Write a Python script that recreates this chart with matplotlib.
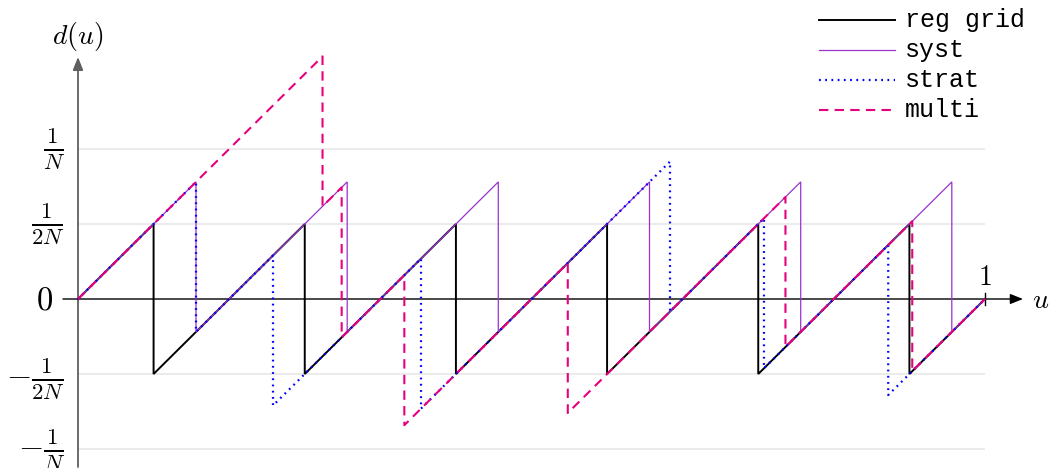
import matplotlib
matplotlib.use("Agg")
import matplotlib.pyplot as plt
from matplotlib.lines import Line2D

plt.rcParams['mathtext.fontset'] = 'cm'

# Number of particles and the resampling positions of each scheme in [0, 1]
N = 6
series_names = ["reg grid", "syst", "strat", "multi"]
reg_grid_points = [1/12, 3/12, 5/12, 7/12, 9/12, 11/12]
syst_points = [0.1301, 0.2968, 0.4634, 0.6301, 0.7968, 0.9634]
strat_points = [0.1301, 0.2150, 0.3782, 0.6527, 0.7563, 0.8933]
multi_points = [0.2696, 0.2907, 0.3598, 0.5400, 0.7800, 0.9198]

ytick_values = [1/N, 1/(2*N), -1/(2*N), -1/N]
ytick_labels = [r'$\frac{1}{N}$', r'$\frac{1}{2N}$', r'$-\frac{1}{2N}$', r'$-\frac{1}{N}$']

styles = {
    "reg grid": dict(color='black', lw=1.4, ls='-'),
    "syst": dict(color='#9933cc', lw=0.9, ls='-'),
    "strat": dict(color='blue', lw=1.6, ls=(0, (0.8, 2.0))),
    "multi": dict(color='#e6007e', lw=1.5, ls=(0, (4.5, 3.0))),
}
points_by_name = {
    "reg grid": reg_grid_points,
    "syst": syst_points,
    "strat": strat_points,
    "multi": multi_points,
}


def discrepancy(points):
    """d(u) = u - #{points <= u} / N, as a polyline with vertical jumps."""
    xs, ys = [0.0], [0.0]
    for k, p in enumerate(sorted(points)):
        xs += [p, p]
        ys += [p - k / N, p - (k + 1) / N]
    xs.append(1.0)
    ys.append(1.0 - len(points) / N)
    return xs, ys


W, H = 1054, 468
fig = plt.figure(figsize=(W / 100, H / 100), dpi=100)
ax = fig.add_axes([0, 0, 1, 1])
ax.axis('off')

# pixel geometry of the plotting frame
X0, XS = 78, 907          # u = 0 at x pixel 78, 907 px per unit
Y0, YS = 299, 150 * N     # d = 0 at y pixel 299, 150 px per 1/N
ax.set_xlim(-X0 / XS, (W - X0) / XS)
ax.set_ylim(-(H - Y0) / YS, Y0 / YS)


def px(x):
    return (x - X0) / XS


def py(y):
    return (Y0 - y) / YS


# light grid
ax.hlines(ytick_values, 0, 1, color='#e8e8e8', lw=1.2, zorder=0)

# axes with arrows
ax.annotate('', xy=(0, py(57)), xytext=(0, py(467)),
            arrowprops=dict(arrowstyle='-|>,head_length=0.55,head_width=0.22',
                            color='#606060', lw=1.3, mutation_scale=14,
                            shrinkA=0, shrinkB=0), zorder=1)
ax.annotate('', xy=(px(1023), 0), xytext=(px(63), 0),
            arrowprops=dict(arrowstyle='-|>,head_length=0.55,head_width=0.22',
                            color='black', lw=1.0, mutation_scale=14,
                            shrinkA=0, shrinkB=0), zorder=1)
ax.plot([1, 1], [py(305), py(293)], color='black', lw=1.0, zorder=1)

# series
for name in series_names:
    xs, ys = discrepancy(points_by_name[name])
    ax.plot(xs, ys, zorder=3, solid_joinstyle='miter', **styles[name])

# labels (negative fractions sit a little lower, as with the minus sign in TeX)
tick_fs = 23.5
label_fs = 20
tick_offsets_px = [0, 0, 5, 1]
for v, lab, off in zip(ytick_values, ytick_labels, tick_offsets_px):
    ax.text(px(65), v - off / YS, lab, ha='right', va='center', size=tick_fs)
ax.text(px(53), py(300), '$0$', ha='right', va='center', size=tick_fs)
ax.text(1, py(291), '$1$', ha='center', va='bottom', size=label_fs)
ax.text(0, py(36), '$d(u)$', ha='center', va='center', size=label_fs)
ax.text(px(1041), py(300), '$u$', ha='center', va='center', size=label_fs)

# legend
for i, name in enumerate(series_names):
    y = 1 - (20 + 30 * i) / H
    fig.add_artist(Line2D([819 / W, 895 / W], [y, y], transform=fig.transFigure,
                          **styles[name]))
    fig.text(905 / W, y, name, ha='left', va='center', size=18,
             family='Liberation Mono')

fig.savefig('out.png', dpi=100)
